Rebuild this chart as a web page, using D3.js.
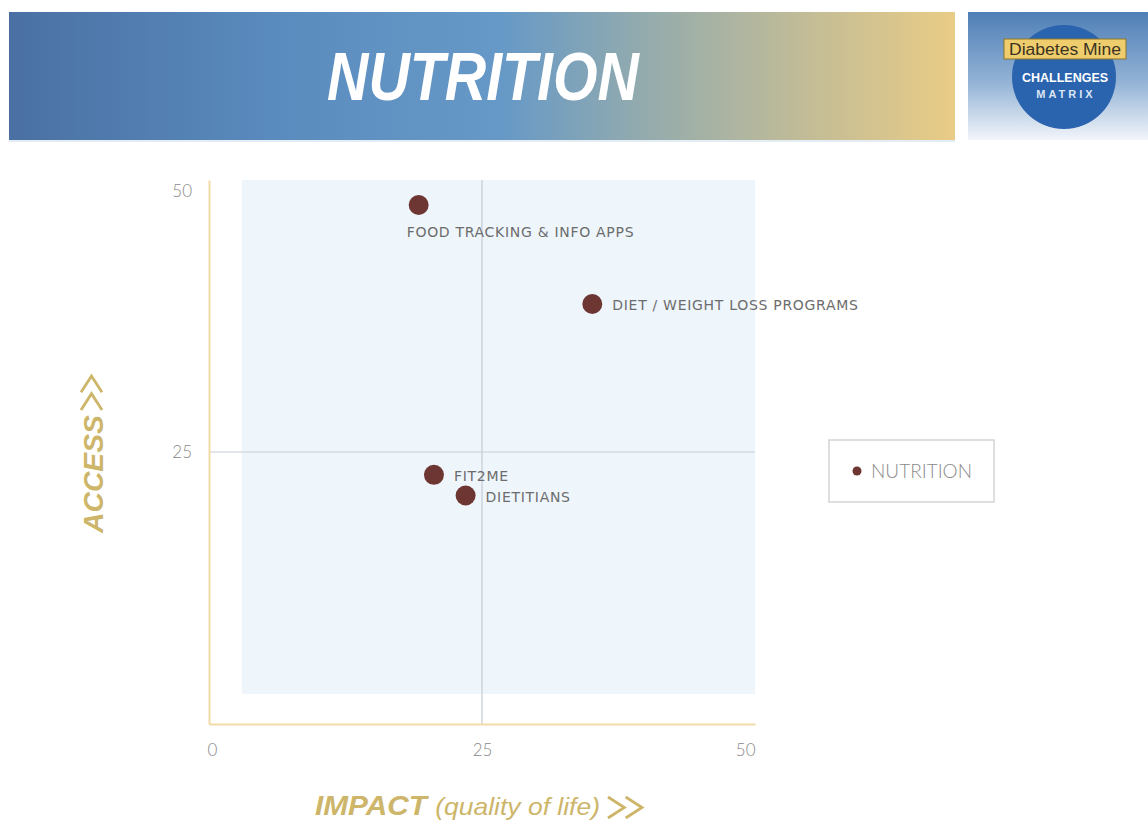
<!DOCTYPE html>
<html>
<head>
<meta charset="utf-8">
<script src="https://cdn.jsdelivr.net/npm/d3@7"></script>
<style>
  html, body { margin: 0; padding: 0; background: #ffffff; }
  svg { display: block; }
</style>
</head>
<body>
<svg id="chart" width="1148" height="823"></svg>
<script>
// Challenge items: impact (x) and access (y), 0–50 scale
const items = ["FOOD TRACKING & INFO APPS", "DIET / WEIGHT LOSS PROGRAMS", "FIT2ME", "DIETITIANS"];
const impact = [19.2, 35.1, 20.6, 23.5];
const access = [47.7, 38.6, 22.9, 21.0];
const labelSide = ["below", "right", "right", "right"];
const xTicks = [0, 25, 50];
const yTicks = [25, 50];
const seriesName = "NUTRITION";

const svg = d3.select("#chart");
const defs = svg.append("defs");

// ---- Header banner ----
const bannerGrad = defs.append("linearGradient").attr("id", "banner").attr("x1", 0).attr("x2", 1).attr("y1", 0).attr("y2", 0);
[[0, "#4a70a3"], [0.28, "#5a8bbe"], [0.52, "#6699c7"], [0.68, "#96acac"], [0.85, "#c4bd96"], [1, "#e9cc86"]]
  .forEach(([o, c]) => bannerGrad.append("stop").attr("offset", o).attr("stop-color", c));
svg.append("rect").attr("x", 9).attr("y", 12).attr("width", 946).attr("height", 128).attr("fill", "url(#banner)");
svg.append("rect").attr("x", 9).attr("y", 140).attr("width", 946).attr("height", 2).attr("fill", "#e4ecf4");
svg.append("text")
  .attr("x", 483).attr("y", 100)
  .attr("text-anchor", "middle")
  .attr("font-family", "Liberation Sans Narrow, Liberation Sans, sans-serif")
  .attr("font-weight", "bold").attr("font-style", "italic")
  .attr("font-size", 68)
  .attr("textLength", 312).attr("lengthAdjust", "spacingAndGlyphs")
  .attr("fill", "#ffffff")
  .text("NUTRITION");

// ---- Logo panel ----
const logoGrad = defs.append("linearGradient").attr("id", "logo").attr("x1", 0).attr("x2", 0).attr("y1", 0).attr("y2", 1);
[[0, "#4f7fb6"], [0.55, "#93b3d6"], [1, "#f2f5fa"]]
  .forEach(([o, c]) => logoGrad.append("stop").attr("offset", o).attr("stop-color", c));
svg.append("rect").attr("x", 968).attr("y", 12).attr("width", 180).attr("height", 128).attr("fill", "url(#logo)");
svg.append("circle").attr("cx", 1064).attr("cy", 77).attr("r", 52).attr("fill", "#2a63ae");
svg.append("rect").attr("x", 1004).attr("y", 39).attr("width", 122).attr("height", 20)
  .attr("fill", "#efcd6c").attr("stroke", "#8c7428").attr("stroke-width", 1);
svg.append("text").attr("x", 1065).attr("y", 55).attr("text-anchor", "middle")
  .attr("font-family", "Liberation Sans Narrow, Liberation Sans, sans-serif").attr("font-size", 16)
  .attr("textLength", 112).attr("lengthAdjust", "spacingAndGlyphs")
  .attr("fill", "#3b3322").text("Diabetes Mine");
svg.append("text").attr("x", 1065).attr("y", 82).attr("text-anchor", "middle")
  .attr("font-family", "Liberation Sans, Arial, sans-serif").attr("font-weight", "bold").attr("font-size", 12.5)
  .attr("fill", "#ffffff").text("CHALLENGES");
svg.append("text").attr("x", 1066).attr("y", 98).attr("text-anchor", "middle")
  .attr("font-family", "Liberation Sans, Arial, sans-serif").attr("font-weight", "bold").attr("font-size", 11)
  .attr("letter-spacing", 3).attr("fill", "#dbe6f3").text("MATRIX");

// ---- Plot ----
const x = d3.scaleLinear().domain([0, 50]).range([209, 755]);
const y = d3.scaleLinear().domain([0, 50]).range([724, 180]);

// shaded plotting region
svg.append("rect")
  .attr("x", x(3)).attr("y", y(50))
  .attr("width", x(50) - x(3)).attr("height", y(2.75) - y(50))
  .attr("fill", "#eef6fc");

// quadrant dividers
svg.append("line").attr("x1", x(25)).attr("x2", x(25)).attr("y1", y(50)).attr("y2", y(0))
  .attr("stroke", "#c5ccd4").attr("stroke-width", 1.2);
svg.append("line").attr("x1", x(0)).attr("x2", x(50)).attr("y1", y(25)).attr("y2", y(25))
  .attr("stroke", "#c5ccd4").attr("stroke-width", 1.2);

// axes
const xAxis = svg.append("g").attr("transform", `translate(0,${y(0)})`)
  .call(d3.axisBottom(x).tickValues(xTicks).tickSize(0).tickPadding(20));
const yAxis = svg.append("g").attr("transform", `translate(${x(0)},0)`)
  .call(d3.axisLeft(y).tickValues(yTicks).tickSize(0).tickPadding(17));
[xAxis, yAxis].forEach(g => {
  g.select(".domain").attr("stroke", "#f1dca8").attr("stroke-width", 2);
  g.selectAll("text").attr("font-family", "Lato, sans-serif").attr("font-weight", 300)
    .attr("font-size", 17).attr("fill", "#8a8a8a");
});
xAxis.selectAll(".tick text").attr("text-anchor", d => d === 0 ? "start" : d === 50 ? "end" : "middle")
  .attr("dx", d => d === 0 ? -2 : 0);
yAxis.selectAll(".tick text").attr("dy", d => d === 50 ? "0.95em" : "0.35em");

// points
const pts = svg.append("g");
items.forEach((name, i) => {
  const cx = x(impact[i]), cy = y(access[i]);
  pts.append("circle").attr("cx", cx).attr("cy", cy).attr("r", 10).attr("fill", "#6e3632");
  const t = pts.append("text")
    .attr("font-family", "DejaVu Sans, sans-serif").attr("font-size", 14).attr("letter-spacing", 0.7)
    .attr("fill", "#6c6c6c")
    .text(name);
  if (labelSide[i] === "below") {
    t.attr("x", cx - 12).attr("y", cy + 32);
  } else {
    t.attr("x", cx + 20).attr("y", cy + 6);
  }
});

// legend
svg.append("rect").attr("x", 829).attr("y", 440).attr("width", 165).attr("height", 62)
  .attr("fill", "#ffffff").attr("stroke", "#d4d4d4").attr("stroke-width", 1.5);
svg.append("circle").attr("cx", 857).attr("cy", 471).attr("r", 4.5).attr("fill", "#6e3632");
svg.append("text").attr("x", 871).attr("y", 478)
  .attr("font-family", "Lato, sans-serif").attr("font-weight", 300).attr("font-size", 19)
  .attr("fill", "#8a8a8a").text(seriesName);

// double chevron ">>" pointing right in local coordinates
function chevrons(g, w, h) {
  [0, w * 0.52].forEach(off => {
    g.append("path")
      .attr("d", `M${off},0 L${off + w * 0.48},${h / 2} L${off},${h}`)
      .attr("fill", "none").attr("stroke", gold).attr("stroke-width", 2.8)
      .attr("stroke-linejoin", "miter");
  });
}

// axis titles
const gold = "#cdb56a";
svg.append("text")
  .attr("transform", "translate(103,533) rotate(-90)")
  .attr("font-family", "Liberation Sans, Arial, sans-serif").attr("font-weight", "bold").attr("font-style", "italic")
  .attr("font-size", 28).attr("textLength", 118).attr("lengthAdjust", "spacingAndGlyphs")
  .attr("fill", gold).text("ACCESS");
chevrons(svg.append("g").attr("transform", "translate(81,410) rotate(-90)"), 34, 21);

const xTitle = svg.append("text")
  .attr("x", 315).attr("y", 815)
  .attr("font-family", "Liberation Sans, Arial, sans-serif").attr("font-style", "italic")
  .attr("font-size", 24).attr("textLength", 285).attr("lengthAdjust", "spacingAndGlyphs")
  .attr("fill", gold);
xTitle.append("tspan").attr("font-weight", "bold").attr("font-size", 27).text("IMPACT ");
xTitle.append("tspan").text("(quality of life)");
chevrons(svg.append("g").attr("transform", "translate(608,797)"), 34, 21);
</script>
</body>
</html>
